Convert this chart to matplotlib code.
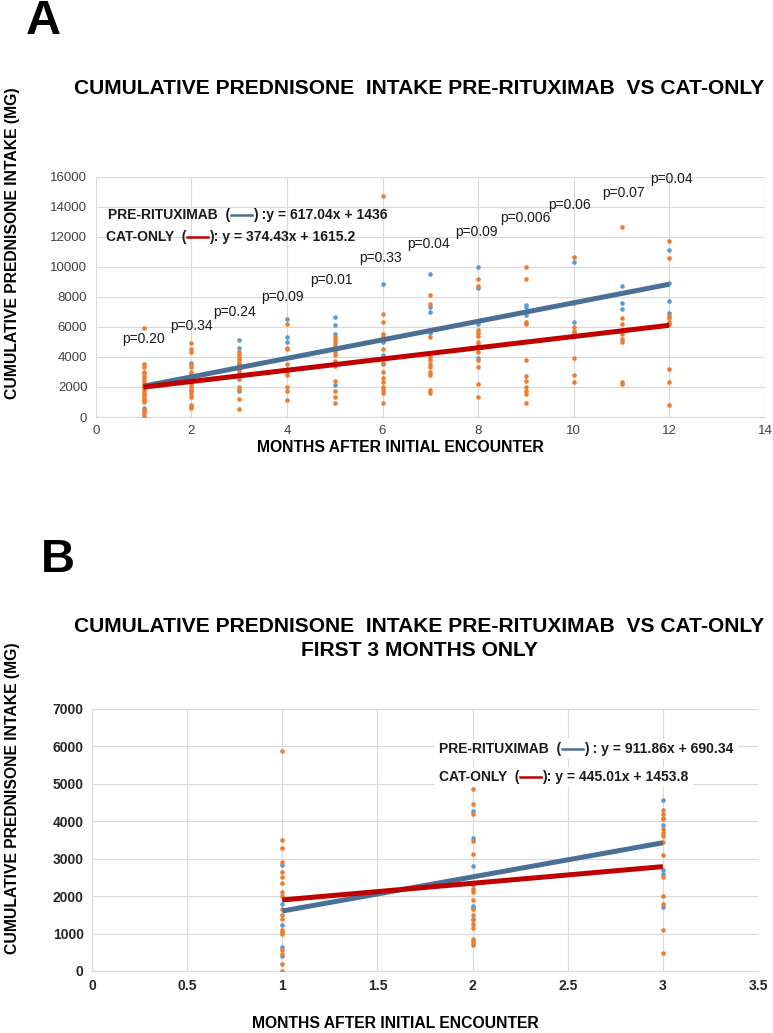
import matplotlib
matplotlib.use('Agg')
import matplotlib.pyplot as plt
from matplotlib.lines import Line2D
import numpy as np

plt.rcParams['font.family'] = ['Liberation Sans', 'DejaVu Sans']

# ---- panel A data (months 1-12) ----
months_a = list(range(1, 13))
pre_a = [
    [2000, 600],
    [3600, 2800, 1700],
    [5150, 4600, 3400, 1700],
    [6550, 5300, 5000],
    [6650, 6150, 5550, 2150],
    [8850, 5000, 4100, 3500],
    [9500, 7300, 7000, 5600],
    [10000, 8600, 6200, 3900],
    [7450, 7300, 6800],
    [10300, 7600, 6300],
    [8750, 7600, 7200],
    [11100, 8900, 7700, 6900],
]
cat_a = [
    [5900, 3500, 3300, 3000, 2900, 2700, 2500, 2300, 2100, 2000, 1900, 1700, 1500, 1400, 1200, 1100, 1000, 500, 400, 200, 0],
    [4900, 4500, 4300, 3500, 3300, 3000, 2800, 2500, 2400, 2200, 2000, 1800, 1500, 1300, 800, 700, 600],
    [4300, 4100, 3900, 3800, 3600, 3500, 3300, 3100, 2900, 2700, 2500, 2000, 1800, 1200, 500],
    [6200, 4600, 4500, 3500, 3200, 3000, 2800, 2000, 1700, 1100],
    [5300, 5100, 4900, 4700, 4500, 4300, 4100, 3700, 3500, 3400, 2400, 1700, 1300, 900],
    [14700, 6850, 6300, 5500, 5300, 5100, 4500, 3600, 3000, 2600, 2300, 2000, 1800, 1600, 900],
    [8150, 7500, 5800, 5300, 4000, 3800, 3500, 3300, 3000, 2800, 1800, 1600],
    [9200, 8700, 5800, 5600, 5400, 5000, 4800, 4600, 4300, 3800, 3300, 2200, 1300],
    [10000, 9200, 6300, 6200, 3800, 2700, 2400, 2000, 1700, 1500, 900],
    [10650, 6000, 5700, 5600, 5400, 3900, 2800, 2300],
    [12650, 6600, 6200, 5800, 5500, 5200, 5000, 2300, 2200],
    [11700, 10600, 6700, 6600, 6300, 6200, 3200, 2300, 800],
]
fit_pre_a = (617.04, 1436)
fit_cat_a = (374.43, 1615.2)
p_labels = ['p=0.20', 'p=0.34', 'p=0.24', 'p=0.09', 'p=0.01', 'p=0.33',
            'p=0.04', 'p=0.09', 'p=0.006', 'p=0.06', 'p=0.07', 'p=0.04']
p_pos = [(1.00, 5180), (2.01, 6040), (2.90, 6970), (3.90, 7970), (4.94, 9100),
         (5.95, 10620), (6.96, 11550), (7.97, 12350), (8.98, 13280),
         (9.91, 14140), (11.04, 14940), (12.04, 15870)]

# ---- panel B data (months 1-3) ----
months_b = [1, 2, 3]
pre_b = [
    [2830, 1800, 1220, 640, 400],
    [4280, 3560, 2810, 1750, 1700, 1400],
    [4580, 3900, 2700, 2600, 1700],
]
cat_b = [
    [5870, 3500, 3280, 2920, 2650, 2500, 2360, 2100, 2000, 1650, 1500, 1400, 1100, 1050, 1000, 550, 450, 200, 0],
    [4850, 4450, 4200, 3460, 3130, 2300, 2200, 2100, 1900, 1650, 1500, 1350, 1250, 1150, 850, 800, 750, 700],
    [4300, 4200, 4100, 4050, 3800, 3700, 3600, 3450, 3100, 2500, 2000, 1800, 1100, 470],
]
fit_pre_b = (911.86, 690.34)
fit_cat_b = (445.01, 1453.8)

BLUE_PT = '#5b9bd5'
ORANGE_PT = '#ed7d31'
BLUE_LN = '#4a7098'
RED_LN = '#c00000'
GRID = '#d9d9d9'

W, H = 773, 1033
fig = plt.figure(figsize=(W / 100, H / 100), dpi=100)


def fx(px):
    return px / W


def fy(py):
    return 1 - py / H


def scatter_groups(ax, months, groups, color):
    for m, vals in zip(months, groups):
        ax.scatter([m] * len(vals), vals, s=11, color=color, zorder=3, linewidths=0)


def style_axes(ax):
    for s in ['left', 'top', 'right']:
        ax.spines[s].set_visible(False)
    ax.spines['bottom'].set_color(GRID)
    ax.grid(True, color=GRID, linewidth=0.8)
    ax.set_axisbelow(True)
    ax.tick_params(length=0, pad=6)


def legend_line(x, y, parts, size=10, box=False):
    # one equation line: bold prefix, short coloured line, bold suffix
    renderer = fig.canvas.get_renderer()
    prefix, color, suffix = parts
    t = fig.text(fx(x), fy(y), prefix, fontsize=size, fontweight='bold', va='center',
                 ha='left', color='#1a1a1a', zorder=6)
    bb = t.get_window_extent(renderer)
    x0 = bb.x1 + 1
    x1 = x0 + 21
    fig.add_artist(Line2D([x0 / W, x1 / W], [fy(y) + 0.5 / H, fy(y) + 0.5 / H],
                          color=color, linewidth=1.8, transform=fig.transFigure, zorder=6))
    t2 = fig.text((x1 + 1) / W, fy(y), suffix, fontsize=size, fontweight='bold',
                  va='center', ha='left', color='#1a1a1a', zorder=6)
    if box:
        b2 = t2.get_window_extent(renderer)
        fig.add_artist(plt.Rectangle(((bb.x0 - 4) / W, (bb.y0 - 3) / H),
                                     (b2.x1 - bb.x0 + 8) / W, (bb.height + 6) / H,
                                     transform=fig.transFigure, facecolor='white',
                                     edgecolor='none', zorder=5))


# ================= Panel A =================
axA = fig.add_axes([fx(95.7), fy(417), fx(765) - fx(95.7), fy(176.7) - fy(417)])
style_axes(axA)
scatter_groups(axA, months_a, pre_a, BLUE_PT)
scatter_groups(axA, months_a, cat_a, ORANGE_PT)
xa = np.array([months_a[0], months_a[-1]])
axA.plot(xa, fit_pre_a[0] * xa + fit_pre_a[1], color=BLUE_LN, lw=3.6, zorder=4,
         solid_capstyle='butt')
axA.plot(xa, fit_cat_a[0] * xa + fit_cat_a[1], color=RED_LN, lw=3.6, zorder=5,
         solid_capstyle='butt')
axA.set_xlim(0, 14)
axA.set_ylim(0, 16000)
axA.set_xticks(range(0, 15, 2))
axA.set_yticks(range(0, 16001, 2000))
for lab in axA.get_xticklabels() + axA.get_yticklabels():
    lab.set_fontsize(9.5)
    lab.set_color('#404040')
for lab, (px, py) in zip(p_labels, p_pos):
    axA.text(px, py, lab, fontsize=10, ha='center', va='center', color='#1a1a1a')

fig.text(fx(26), fy(21), 'A', fontsize=35, fontweight='bold', va='center', ha='left')
fig.text(fx(419), fy(88), 'CUMULATIVE PREDNISONE  INTAKE PRE-RITUXIMAB  VS CAT-ONLY',
         fontsize=15.1, fontweight='bold', ha='center', va='center')
fig.text(fx(13), fy(243), 'CUMULATIVE PREDNISONE INTAKE (MG)', fontsize=11.3,
         fontweight='bold', rotation=90, ha='center', va='center')
fig.text(fx(400), fy(448), 'MONTHS AFTER INITIAL ENCOUNTER', fontsize=11.3,
         fontweight='bold', ha='center', va='center')

legend_line(108, 215, ('PRE-RITUXIMAB  (', BLUE_LN, ') :y = 617.04x + 1436'))
legend_line(106, 237, ('CAT-ONLY  (', RED_LN, '): y = 374.43x + 1615.2'))

# ================= Panel B =================
axB = fig.add_axes([fx(92), fy(971), fx(758) - fx(92), fy(709) - fy(971)])
style_axes(axB)
scatter_groups(axB, months_b, pre_b, BLUE_PT)
scatter_groups(axB, months_b, cat_b, ORANGE_PT)
xb = np.array([months_b[0], months_b[-1]])
axB.plot(xb, fit_pre_b[0] * xb + fit_pre_b[1], color=BLUE_LN, lw=3.6, zorder=4,
         solid_capstyle='butt')
axB.plot(xb, fit_cat_b[0] * xb + fit_cat_b[1], color=RED_LN, lw=3.6, zorder=5,
         solid_capstyle='butt')
axB.set_xlim(0, 3.5)
axB.set_ylim(0, 7000)
axB.set_xticks([0, 0.5, 1, 1.5, 2, 2.5, 3, 3.5])
axB.set_xticklabels(['0', '0.5', '1', '1.5', '2', '2.5', '3', '3.5'])
axB.set_yticks(range(0, 7001, 1000))
for lab in axB.get_xticklabels() + axB.get_yticklabels():
    lab.set_fontsize(10)
    lab.set_fontweight('bold')
    lab.set_color('#262626')

fig.text(fx(41), fy(560), 'B', fontsize=34, fontweight='bold', va='center', ha='left')
fig.text(fx(419), fy(627), 'CUMULATIVE PREDNISONE  INTAKE PRE-RITUXIMAB  VS CAT-ONLY',
         fontsize=15.1, fontweight='bold', ha='center', va='center')
fig.text(fx(419), fy(651), 'FIRST 3 MONTHS ONLY', fontsize=15.1, fontweight='bold',
         ha='center', va='center')
fig.text(fx(13), fy(798), 'CUMULATIVE PREDNISONE INTAKE (MG)', fontsize=11.3,
         fontweight='bold', rotation=90, ha='center', va='center')
fig.text(fx(395), fy(1023), 'MONTHS AFTER INITIAL ENCOUNTER', fontsize=11.3,
         fontweight='bold', ha='center', va='center')

legend_line(439, 749, ('PRE-RITUXIMAB  (', BLUE_LN, ') : y = 911.86x + 690.34'), box=True)
legend_line(439, 777, ('CAT-ONLY  (', RED_LN, '): y = 445.01x + 1453.8'), box=True)

fig.savefig('out.png', dpi=100)
